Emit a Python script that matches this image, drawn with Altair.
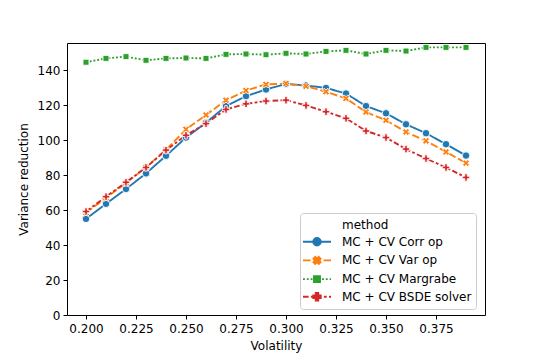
import altair as alt
import pandas as pd

# ---- data ----
volatility = [0.20, 0.21, 0.22, 0.23, 0.24, 0.25, 0.26, 0.27, 0.28, 0.29,
              0.30, 0.31, 0.32, 0.33, 0.34, 0.35, 0.36, 0.37, 0.38, 0.39]
corr_op = [55.0, 63.6, 72.1, 81.0, 91.1, 101.5, 110.0, 119.5, 125.2, 129.0,
           132.2, 131.3, 129.9, 126.7, 119.5, 115.4, 109.1, 104.0, 97.7, 91.2]
var_op = [58.5, 67.0, 75.5, 84.5, 94.5, 106.2, 114.4, 122.9, 128.4, 131.9,
          132.4, 130.9, 127.7, 123.9, 116.1, 111.4, 104.7, 99.6, 93.3, 86.9]
margrabe = [144.6, 146.8, 147.8, 145.7, 146.8, 147.0, 146.8, 149.1, 149.3, 148.9,
            149.7, 149.3, 150.8, 151.4, 149.3, 151.4, 151.0, 153.1, 153.1, 153.1]
bsde = [59.2, 67.7, 75.9, 84.4, 94.3, 102.8, 109.5, 117.6, 120.8, 122.4,
        122.9, 119.9, 116.3, 112.5, 105.3, 101.5, 94.9, 89.5, 84.4, 78.7]

legend_title = "method"
methods = ["MC + CV Corr op", "MC + CV Var op", "MC + CV Margrabe", "MC + CV BSDE solver"]
x_ticks = [0.2, 0.225, 0.25, 0.275, 0.3, 0.325, 0.35, 0.375]
y_ticks = [0, 20, 40, 60, 80, 100, 120, 140]

# ---- styles ----
colors = ["#1f77b4", "#ff7f0e", "#2ca02c", "#d62728"]
dashes = [[1, 0], [7.5, 2.8], [1.9, 1.9], [5.6, 2.3, 2.8, 2.3]]
FONT = "DejaVu Sans"


def poly(points, k=1.0):
    return "M" + "L".join(f"{x * k:.3f},{y * k:.3f}" for x, y in points) + "Z"


plus_pts = [(-1/3, -1), (1/3, -1), (1/3, -1/3), (1, -1/3), (1, 1/3), (1/3, 1/3),
            (1/3, 1), (-1/3, 1), (-1/3, 1/3), (-1, 1/3), (-1, -1/3), (-1/3, -1/3)]
r2 = 2 ** 0.5
x_pts = [((x - y) / r2, (x + y) / r2) for x, y in plus_pts]
sq_pts = [(-0.8, -0.8), (0.8, -0.8), (0.8, 0.8), (-0.8, 0.8)]

marker_shapes = ["circle", poly(x_pts), poly(sq_pts), poly(plus_pts)]


def circle_path(r):
    return f"M{r:.3f},0A{r:.3f},{r:.3f},0,1,1,{-r:.3f},0A{r:.3f},{r:.3f},0,1,1,{r:.3f},0Z"


def line_path(pattern_px, unit=7.0, x0=-2.0, x1=2.0):
    if pattern_px[1] == 0:
        return f"M{x0},0L{x1},0"
    pat = [p / unit for p in pattern_px]
    out, x, i, on = [], x0, 0, True
    while x < x1 - 1e-9:
        end = min(x + pat[i % len(pat)], x1)
        if on:
            out.append(f"M{x:.3f},0L{end:.3f},0")
        x, i, on = end, i + 1, not on
    return "".join(out)


k = 3.74 / 7.0
legend_markers = [circle_path(0.536), poly(x_pts, k), poly(sq_pts, k), poly(plus_pts, k)]
# first entry is the seaborn-style "method" header row, with an empty handle
legend_paths = ["M0,0"] + [line_path(d) + m for d, m in zip(dashes, legend_markers)]
legend_colors = ["rgba(0,0,0,0)"] + colors

shape_expr = "[" + ",".join(f"'{p}'" for p in legend_paths) + "][datum.index]"
color_expr = "[" + ",".join(f"'{c}'" for c in legend_colors) + "][datum.index]"

rows = []
for name, vals in zip(methods, [corr_op, var_op, margrabe, bsde]):
    for v, y in zip(volatility, vals):
        rows.append({"Volatility": v, "Variance reduction": y,
                     "method": name, "marker": name, "dash": name})
df = pd.DataFrame(rows)

legend = alt.Legend(
    title=None, orient="none", legendX=233, legendY=170,
    padding=4, cornerRadius=3, strokeColor="#cccccc", fillColor="rgba(255,255,255,0.8)",
    labelFont=FONT, labelFontSize=12, labelColor="black",
    symbolSize=196, symbolStrokeWidth=1.9, symbolOffset=5, labelOffset=17,
    symbolType=alt.ExprRef(expr=shape_expr),
    symbolFillColor=alt.ExprRef(expr=color_expr),
    symbolStrokeColor=alt.ExprRef(expr=color_expr),
    symbolOpacity=1,
    rowPadding=2.7,
)

x_enc = alt.X("Volatility:Q",
              scale=alt.Scale(domain=[0.1905, 0.3995], nice=False, zero=False),
              axis=alt.Axis(values=x_ticks, format=".3f", title="Volatility",
                            labelFlush=False, labelPadding=4, titlePadding=6))
y_enc = alt.Y("Variance reduction:Q",
              scale=alt.Scale(domain=[0, 155.6], nice=False),
              axis=alt.Axis(values=y_ticks, title="Variance reduction",
                            labelPadding=3, titlePadding=7))
color_enc = alt.Color("method:N",
                      scale=alt.Scale(domain=[legend_title] + methods, range=legend_colors),
                      legend=legend)

lines = alt.Chart(df).mark_line(strokeWidth=1.875).encode(
    x=x_enc, y=y_enc, color=color_enc,
    strokeDash=alt.StrokeDash("dash:N", scale=alt.Scale(domain=methods, range=dashes),
                              legend=None),
)

points = alt.Chart(df).mark_point(filled=True, size=56, opacity=1,
                                  stroke="white", strokeWidth=0.9).encode(
    x=x_enc, y=y_enc, color=color_enc,
    shape=alt.Shape("marker:N", scale=alt.Scale(domain=methods, range=marker_shapes),
                    legend=None),
)

chart = alt.layer(lines, points).properties(
    width=418, height=272,
    autosize=alt.AutoSizeParams(type="none"),
    padding={"left": 59, "top": 35, "right": 40, "bottom": 45},
).configure(font=FONT).configure_view(
    stroke="black", strokeWidth=1, fill="white"
).configure_axis(
    grid=False, domain=False, tickColor="black", tickSize=4, tickWidth=1,
    labelFont=FONT, labelFontSize=12, labelColor="black",
    titleFont=FONT, titleFontSize=12, titleFontWeight="normal", titleColor="black",
)

chart.save("out.html", embed_options={"renderer": "svg", "actions": False})
